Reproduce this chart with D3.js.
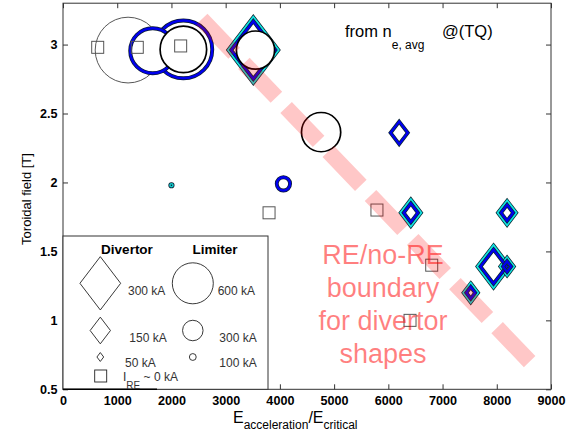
<!DOCTYPE html>
<html>
<head>
<meta charset="utf-8">
<script src="https://cdn.jsdelivr.net/npm/d3@7/dist/d3.min.js"></script>
<style>
  body { margin: 0; background: #fff; }
  svg { display: block; }
  text { font-family: "Liberation Sans", Arial, Helvetica, sans-serif; }
</style>
</head>
<body>
<svg id="chart" width="577" height="431"></svg>
<script>
// ---- axis ticks ----
const xTicks = [0, 1000, 2000, 3000, 4000, 5000, 6000, 7000, 8000, 9000];
const yTicks = [0.5, 1, 1.5, 2, 2.5, 3];
const yTickLabels = ["0.5", "1", "1.5", "2", "2.5", "3"];

// ---- shots without runaway current (I_RE ~ 0) ----
const noReX = [640, 1370, 2170, 3800, 5790, 6800, 6400];
const noReY = [2.98, 2.98, 2.99, 1.78, 1.80, 1.40, 1.00];

// ---- divertor shots, outer (cyan) ring: E ratio, B_T, I_RE [kA] ----
const divCyanX = [3510, 6415, 8190, 7940, 8190, 7520];
const divCyanY = [2.96, 1.78, 1.78, 1.39, 1.39, 1.20];
const divCyanI = [370, 150, 135, 237, 100, 107];

// ---- divertor shots, inner (blue) ring ----
const divBlueX = [3510, 6200, 6415, 8190, 7940, 8190, 7520];
const divBlueY = [2.96, 2.36, 1.78, 1.78, 1.39, 1.39, 1.20];
const divBlueI = [325, 127, 105, 90, 192, 60, 65];

// ---- limiter shots ----
const limGrayX = [1200];
const limGrayY = [2.96];
const limGrayI = [962];

const limBlueX = [2220, 1655, 4065];
const limBlueY = [2.965, 2.955, 1.99];
const limBlueI = [845, 659, 195];

const limBlackX = [2220, 3550, 4760];
const limBlackY = [2.965, 2.96, 2.365];
const limBlackI = [681, 559, 574];

const limCyanX = [2000];
const limCyanY = [1.98];
const limCyanI = [45];

// ---- RE / no-RE boundary (end points) ----
const boundaryX = [2558, 8613];
const boundaryY = [3.183, 0.698];

// ---- legend entries ----
const legendDivI = [300, 150, 50];
const legendLimI = [600, 300, 100];

const svg = d3.select("#chart");
const x = d3.scaleLinear().domain([0, 9000]).range([63, 551]);
const y = d3.scaleLinear().domain([0.5, 3.3]).range([389.3, 3.2]);
// marker sizes: diamond width and circle diameter in px per kA
const diamondW = d3.scaleLinear().domain([0, 300]).range([0, 40.7]);
const circleD = d3.scaleLinear().domain([0, 600]).range([0, 41]);

const zip = (xs, ys, is) => xs.map((v, i) => ({ x: v, y: ys[i], I: is ? is[i] : 0 }));

function diamondPath(w) {
  const h = w * 1.31;
  return `M0,${-h / 2}L${w / 2},0L0,${h / 2}L${-w / 2},0Z`;
}

svg.append("rect").attr("width", 577).attr("height", 431).attr("fill", "#fff");

// ---- axes frame and ticks ----
const axisG = svg.append("g").attr("class", "axes");
const axisColor = "#333";
const xb = axisG.append("g").attr("transform", "translate(0,389.3)")
  .call(d3.axisBottom(x).tickValues(xTicks).tickSize(-5).tickPadding(6.8).tickFormat(d3.format("d")));
const xt = axisG.append("g").attr("transform", "translate(0,3.2)")
  .call(d3.axisTop(x).tickValues(xTicks).tickSize(-5).tickFormat(""));
const yl = axisG.append("g").attr("transform", "translate(63,0)")
  .call(d3.axisLeft(y).tickValues(yTicks).tickSize(-5).tickPadding(5.5).tickFormat((d, i) => yTickLabels[i]));
const yr = axisG.append("g").attr("transform", "translate(551,0)")
  .call(d3.axisRight(y).tickValues(yTicks).tickSize(-5).tickFormat(""));
[xb, xt, yl, yr].forEach(g => {
  g.select(".domain").remove();
  g.selectAll(".tick line").attr("stroke", axisColor);
  g.selectAll("text").attr("fill", "#000").style("font-size", "12.6px").style("font-weight", "bold")
    .style("font-family", "'Liberation Sans', Arial, sans-serif");
});
axisG.append("rect").attr("x", 63).attr("y", 3.2).attr("width", 488).attr("height", 386.1)
  .attr("fill", "none").attr("stroke", axisColor).attr("stroke-width", 1);

// ---- data layer ----
const plot = svg.append("g").attr("class", "plot");

function ringDiamonds(data, color) {
  const g = plot.append("g");
  const sel = g.selectAll("g").data(data).join("g")
    .attr("transform", d => `translate(${x(d.x)},${y(d.y)})`);
  sel.append("path").attr("d", d => diamondPath(diamondW(d.I)))
    .attr("fill", "none").attr("stroke", "#0b2630").attr("stroke-width", 3.8);
  sel.append("path").attr("d", d => diamondPath(diamondW(d.I)))
    .attr("fill", "none").attr("stroke", color).attr("stroke-width", 2.3);
}
ringDiamonds(zip(divCyanX, divCyanY, divCyanI), "#12e3e3");
ringDiamonds(zip(divBlueX, divBlueY, divBlueI), "#0000ee");

function circles(data, stroke, width, under) {
  const g = plot.append("g");
  const sel = g.selectAll("g").data(data).join("g")
    .attr("transform", d => `translate(${x(d.x)},${y(d.y)})`);
  if (under) {
    sel.append("circle").attr("r", d => circleD(d.I) / 2)
      .attr("fill", "#fff").attr("stroke", "#0b1a30").attr("stroke-width", width + 1.5);
  }
  sel.append("circle").attr("r", d => circleD(d.I) / 2)
    .attr("fill", under ? "none" : "#fff").attr("stroke", stroke).attr("stroke-width", width);
}
circles(zip(limGrayX, limGrayY, limGrayI), "#444", 0.9, false);
circles(zip(limBlueX, limBlueY, limBlueI), "#0000ee", 2.4, true);
circles(zip(limBlackX, limBlackY, limBlackI), "#000", 1.7, false);
circles(zip(limCyanX, limCyanY, limCyanI), "#12c8c8", 1.6, true);

// squares: no runaway current
plot.append("g").selectAll("rect").data(zip(noReX, noReY)).join("rect")
  .attr("x", d => x(d.x) - 6).attr("y", d => y(d.y) - 6)
  .attr("width", 12).attr("height", 12)
  .attr("fill", "none").attr("stroke", "#555").attr("stroke-width", 1);

// ---- boundary band ----
svg.append("line")
  .attr("x1", x(boundaryX[0])).attr("y1", y(boundaryY[0]))
  .attr("x2", x(boundaryX[1])).attr("y2", y(boundaryY[1]))
  .attr("stroke", "rgba(255,0,0,0.22)").attr("stroke-width", 16)
  .attr("stroke-dasharray", "47,14");

const note = svg.append("text").attr("text-anchor", "middle")
  .attr("fill", "rgba(255,0,0,0.5)").style("font-size", "27px");
["RE/no-RE", "boundary", "for divertor", "shapes"].forEach((t, i) => {
  note.append("tspan").attr("x", 383).attr("y", 264 + i * 33).text(t);
});

// ---- density annotation ----
const ann = svg.append("text").attr("x", 345).attr("y", 36.5).attr("fill", "#000")
  .style("font-size", "16.5px");
ann.append("tspan").text("from n");
ann.append("tspan").attr("dy", 12).style("font-size", "12px").text("e, avg");
ann.append("tspan").attr("x", 442).attr("dy", -12).text("@(TQ)");

// ---- legend ----
const leg = svg.append("g").attr("class", "legend");
leg.append("rect").attr("x", 63).attr("y", 236).attr("width", 205).attr("height", 153.3)
  .attr("fill", "#fff").attr("stroke", "#333").attr("stroke-width", 1);
leg.append("line").attr("x1", 63).attr("x2", 157).attr("y1", 389.3).attr("y2", 389.3)
  .attr("stroke", "#000").attr("stroke-width", 1.6);
leg.append("text").attr("x", 127).attr("y", 254).attr("text-anchor", "middle")
  .style("font-size", "13.5px").style("font-weight", "bold").text("Divertor");
leg.append("text").attr("x", 215).attr("y", 254).attr("text-anchor", "middle")
  .style("font-size", "13.5px").style("font-weight", "bold").text("Limiter");

const legRowsY = [283.3, 330.5, 357];
const legLabelY = [295, 341.7, 367.3];
leg.selectAll("path.ld").data(legendDivI).join("path").attr("class", "ld")
  .attr("transform", (d, i) => `translate(100.3,${legRowsY[i]})`)
  .attr("d", d => diamondPath(diamondW(d)))
  .attr("fill", "none").attr("stroke", "#222").attr("stroke-width", 0.9);
leg.selectAll("circle.lc").data(legendLimI).join("circle").attr("class", "lc")
  .attr("cx", 192.8).attr("cy", (d, i) => legRowsY[i])
  .attr("r", d => circleD(d) / 2)
  .attr("fill", "none").attr("stroke", "#222").attr("stroke-width", 0.9);
const divLabX = [128, 129.3, 125];
leg.selectAll("text.ldt").data(legendDivI).join("text").attr("class", "ldt")
  .attr("x", (d, i) => divLabX[i]).attr("y", (d, i) => legLabelY[i])
  .attr("fill", "#333").style("font-size", "12px").text(d => `${d} kA`);
leg.selectAll("text.lct").data(legendLimI).join("text").attr("class", "lct")
  .attr("x", (d, i) => i === 0 ? 217.7 : 219.3).attr("y", (d, i) => legLabelY[i])
  .attr("fill", "#333").style("font-size", "12px").text(d => `${d} kA`);
leg.append("rect").attr("x", 94.7).attr("y", 370).attr("width", 12).attr("height", 12)
  .attr("fill", "none").attr("stroke", "#222").attr("stroke-width", 0.9);
const ire = leg.append("text").attr("x", 123).attr("y", 381).attr("fill", "#333").style("font-size", "12px");
ire.append("tspan").text("I");
ire.append("tspan").attr("dy", 8).style("font-size", "10px").text("RE");
ire.append("tspan").attr("dy", -8).text(" ~ 0 kA");

// ---- axis titles ----
const xl = svg.append("text").attr("x", 233).attr("y", 422.5).attr("fill", "#000").style("font-size", "16px");
xl.append("tspan").text("E");
xl.append("tspan").attr("dy", 6).style("font-size", "12px").text("acceleration");
xl.append("tspan").attr("dy", -6).text("/E");
xl.append("tspan").attr("dy", 6).style("font-size", "12px").text("critical");

svg.append("text").attr("transform", "translate(31,199) rotate(-90)")
  .attr("text-anchor", "middle").attr("fill", "#000").style("font-size", "13px")
  .text("Toroidal field [T]");
</script>
</body>
</html>
